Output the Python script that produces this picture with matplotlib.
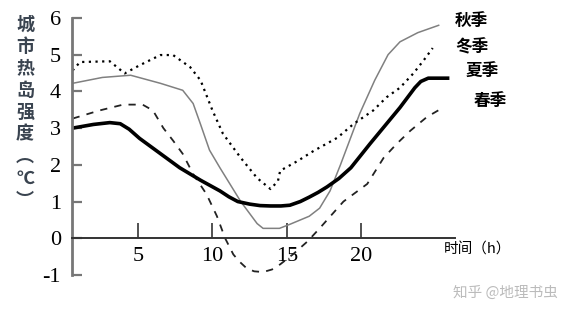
import matplotlib
matplotlib.use("Agg")
import matplotlib.pyplot as plt

plt.rcParams['font.family'] = ['Noto Sans CJK SC', 'DejaVu Sans']
plt.rcParams['axes.unicode_minus'] = False

# 各季节城市热岛强度 (时间 h, 强度 ℃)
summer_x = [0.6, 2.0, 3.1, 3.8, 4.4, 5.1, 7.8, 9.2, 10.5, 11.1, 11.7, 12.5, 13.2, 13.9, 14.6, 15.2, 15.9, 16.5, 17.1,
            17.7, 18.5, 19.3, 20.6, 22.6, 23.6, 24.0, 24.5, 25.8]
summer_y = [3.0, 3.1, 3.15, 3.12, 2.97, 2.72, 1.92, 1.58, 1.29, 1.13, 1.0, 0.93, 0.89, 0.88, 0.88, 0.9, 1.0, 1.12, 1.25,
            1.4, 1.63, 1.92, 2.58, 3.56, 4.1, 4.27, 4.36, 4.36]

autumn_x = [0.6, 2.6, 4.5, 6.5, 8.0, 8.7, 9.2, 9.8, 10.5, 11.9, 13.0, 13.4, 14.5, 15.2, 16.5, 17.2, 17.9, 18.6, 19.9,
            20.9, 21.8, 22.6, 23.8, 25.2]
autumn_y = [4.22, 4.38, 4.44, 4.22, 4.03, 3.67, 3.1, 2.4, 1.92, 1.0, 0.4, 0.27, 0.27, 0.38, 0.6, 0.82, 1.29, 2.0, 3.4,
            4.3, 5.0, 5.35, 5.6, 5.8]

winter_x = [0.6, 1.1, 3.1, 4.1, 5.1, 6.5, 7.35, 8.5, 9.2, 10.0, 10.7, 11.9, 13.0, 13.9, 14.4, 14.55, 15.7, 16.8,
            18.4, 19.5, 20.8, 21.7, 22.6, 23.5, 24.2, 24.8]
winter_y = [4.57, 4.8, 4.82, 4.49, 4.71, 4.99, 4.99, 4.66, 4.3, 3.48, 2.85, 2.19, 1.64, 1.34, 1.56, 1.84, 2.1, 2.38,
            2.74, 3.12, 3.48, 3.84, 4.1, 4.49, 4.85, 5.18]

spring_x = [0.6, 2.4, 4.0, 5.3, 6.0, 6.7, 7.35, 8.0, 8.7, 9.6, 10.3, 10.85, 11.4, 11.8, 12.3, 12.8, 13.4, 14.0, 14.55,
            15.4, 16.4, 17.2, 18.8, 20.4, 21.5, 22.4, 23.3, 24.4, 25.5]
spring_y = [3.26, 3.48, 3.64, 3.64, 3.48, 3.0, 2.66, 2.3, 1.75, 1.2, 0.6, 0.0, -0.44, -0.63, -0.82, -0.9, -0.92, -0.85,
            -0.71, -0.44, -0.08, 0.27, 1.0, 1.48, 2.19, 2.58, 2.93, 3.3, 3.56]

x_ticks = [5, 10, 15, 20]
y_ticks = [-1, 0, 1, 2, 3, 4, 5, 6]

fig = plt.figure(figsize=(5.86, 3.15), dpi=100)
ax = fig.add_axes([0.1229, 0.127, 0.6536, 0.816])

ax.plot(autumn_x, autumn_y, color='#808080', lw=1.1)
ax.plot(winter_x, winter_y, color='black', lw=1.6, linestyle=(0, (1, 2)))
ax.plot(spring_x, spring_y, color='#222222', lw=1.3, linestyle=(0, (4, 4)))
ax.plot(summer_x, summer_y, color='black', lw=2.6, solid_joinstyle='round')

ax.set_xlim(0.56, 26.3)
ax.set_ylim(-1, 6)

for s in ['top', 'right']:
    ax.spines[s].set_visible(False)
ax.spines['left'].set_color('#777777')
ax.spines['left'].set_linewidth(2.0)
ax.spines['bottom'].set_position(('data', 0))
ax.spines['bottom'].set_color('#333333')
ax.spines['bottom'].set_linewidth(1.4)

ax.set_xticks(x_ticks)
ax.set_yticks(y_ticks)
ax.tick_params(axis='x', direction='in', length=11, width=1.2, color='#333333', pad=6)
ax.tick_params(axis='y', direction='in', length=7, width=1.6, color='#777777', pad=8)
for lab in ax.get_xticklabels() + ax.get_yticklabels():
    lab.set_fontfamily('Liberation Serif')
    lab.set_fontsize(16)

# y 轴标题（竖排）
ylabel_chars = ['城', '市', '热', '岛', '强', '度', '︵', '℃', '︶']
for i, ch in enumerate(ylabel_chars):
    fig.text(25 / 586, 1 - (24 + i * 22) / 315, ch, ha='center', va='center',
             fontsize=13, color='#3a4450', fontweight='bold')

# 季节标注
season_labels = ['秋季', '冬季', '夏季', '春季']
label_pos = [(471, 21), (472, 47), (482, 72), (490, 101)]
for name, (px, py) in zip(season_labels, label_pos):
    fig.text(px / 586, 1 - py / 315, name, ha='center', va='center',
             fontsize=12, fontweight='bold', color='black')

fig.text(477 / 586, 1 - 250 / 315, '时间（h）', ha='center', va='center',
         fontsize=10.5, color='black')
fig.text(505 / 586, 1 - 293 / 315, '知乎 @地理书虫', ha='center', va='center',
         fontsize=10.5, color='#bbbbbb')

fig.savefig('out.png', dpi=100)
